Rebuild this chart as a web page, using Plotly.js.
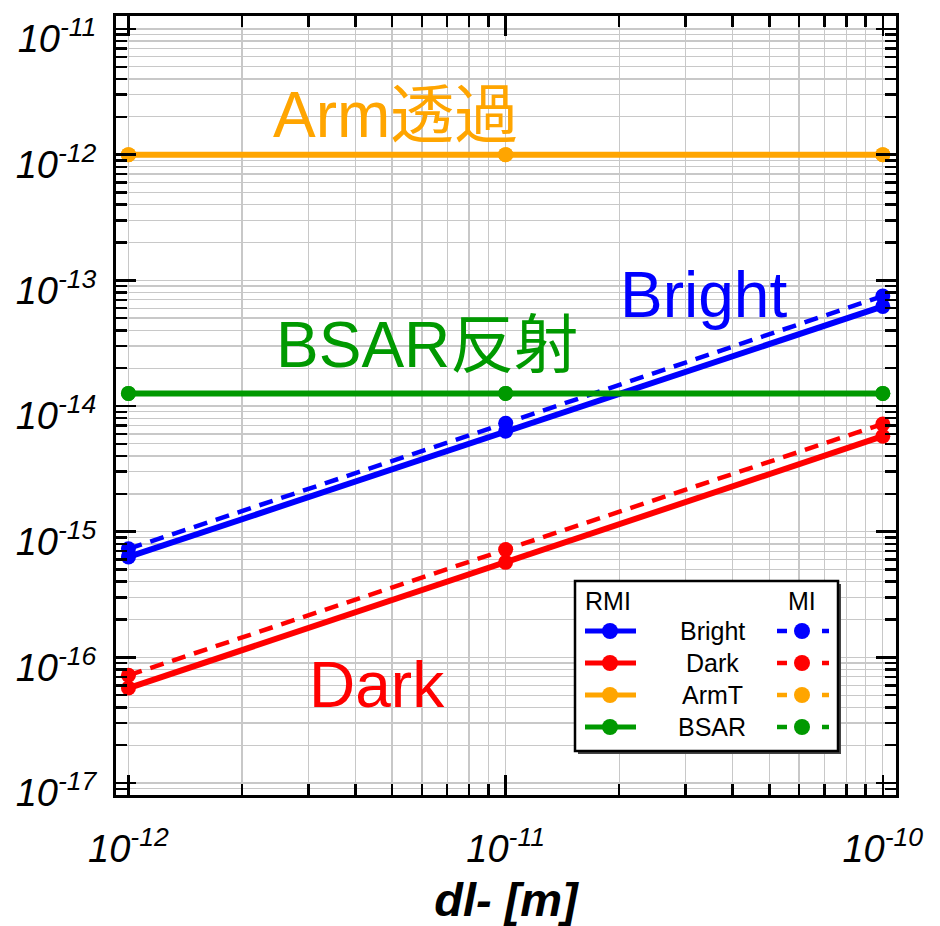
<!DOCTYPE html>
<html><head><meta charset="utf-8">
<script src="https://cdn.plot.ly/plotly-3.0.1.min.js"></script>
<style>body{margin:0;background:#fff}</style></head>
<body><div id="chart" style="width:940px;height:926px"></div>
<script>
// ---- data ----
const dl = [1e-12, 1e-11, 1e-10];
const brightRMI = [6.3e-16, 6.3e-15, 6.2e-14];
const brightMI  = [7.3e-16, 7.3e-15, 7.5e-14];
const darkRMI   = [5.7e-17, 5.7e-16, 5.75e-15];
const darkMI    = [7.2e-17, 7.2e-16, 7.2e-15];
const armTRMI   = [1.0e-12, 1.0e-12, 1.0e-12];
const armTMI    = [1.0e-12, 1.0e-12, 1.0e-12];
const bsarRMI   = [1.26e-14, 1.26e-14, 1.26e-14];
const bsarMI    = [1.26e-14, 1.26e-14, 1.26e-14];
const seriesNames  = ['Bright', 'Dark', 'ArmT', 'BSAR'];
const seriesColors = ['#0000ff', '#ff0000', '#ffa500', '#009900'];
const xTickVals = [1e-12, 1e-11, 1e-10];
const xTickText = ['10<sup>-12</sup>', '10<sup>-11</sup>', '10<sup>-10</sup>'];
const yTickVals = [1e-17, 1e-16, 1e-15, 1e-14, 1e-13, 1e-12, 1e-11];
const yTickText = ['10<sup>-17</sup>', '10<sup>-16</sup>', '10<sup>-15</sup>', '10<sup>-14</sup>', '10<sup>-13</sup>', '10<sup>-12</sup>', '10<sup>-11</sup>'];
const labels = [
  {text: 'Arm透過', x: -11.293, y: -11.684, color: '#ffa500'},
  {text: 'BSAR反射', x: -11.208, y: -13.514, color: '#009900'},
  {text: 'Bright', x: -10.476, y: -13.116, color: '#0000ff'},
  {text: 'Dark', x: -11.341, y: -16.219, color: '#ff0000'}
];

const rmiSets = [brightRMI, darkRMI, armTRMI, bsarRMI];
const miSets  = [brightMI, darkMI, armTMI, bsarMI];

function minorVals(lo, hi) {
  const v = [];
  for (let e = lo; e <= hi; e++) for (let m = 2; m <= 9; m++) v.push(m * Math.pow(10, e));
  return v;
}

const FONT = 'Liberation Sans, Arial, sans-serif';
const traces = [];
miSets.forEach((ys, i) => traces.push({
  x: dl, y: ys, type: 'scatter', mode: 'lines+markers', name: seriesNames[i] + ' MI',
  line: {color: seriesColors[i], width: 4.5, dash: '14px,9px'},
  marker: {color: seriesColors[i], size: 15}, showlegend: false
}));
rmiSets.forEach((ys, i) => traces.push({
  x: dl, y: ys, type: 'scatter', mode: 'lines+markers', name: seriesNames[i] + ' RMI',
  line: {color: seriesColors[i], width: 6},
  marker: {color: seriesColors[i], size: 15}, showlegend: false
}));

// layout geometry (pixel -> paper helpers)
const L = 116, R = 896, T = 16, B = 795, W = 940, H = 926;
const px = x => (x - L) / (R - L);
const py = y => (B - y) / (B - T);

const shapes = [];
const annotations = [];
function legText(text, x, y) {
  annotations.push({xref: 'paper', yref: 'paper', x: px(x), y: py(y), text: text, showarrow: false,
    xanchor: 'center', yanchor: 'middle', font: {family: FONT, size: 25, color: '#000'}});
}
// legend box with shadow
shapes.push({type: 'rect', xref: 'paper', yref: 'paper', x0: px(578), x1: px(841), y0: py(584), y1: py(754),
  fillcolor: '#444', line: {width: 0}, layer: 'above'});
shapes.push({type: 'rect', xref: 'paper', yref: 'paper', x0: px(575), x1: px(838), y0: py(581), y1: py(751),
  fillcolor: '#fff', line: {color: '#000', width: 2.5}, layer: 'above'});
legText('RMI', 608, 601);
legText('MI', 802, 601);
seriesNames.forEach((nm, i) => {
  const yy = 631 + i * 32;
  shapes.push({type: 'line', xref: 'paper', yref: 'paper', x0: px(585), x1: px(636), y0: py(yy), y1: py(yy),
    line: {color: seriesColors[i], width: 5}, layer: 'above'});
  shapes.push({type: 'line', xref: 'paper', yref: 'paper', x0: px(777), x1: px(787), y0: py(yy), y1: py(yy),
    line: {color: seriesColors[i], width: 4.5}, layer: 'above'});
  shapes.push({type: 'line', xref: 'paper', yref: 'paper', x0: px(822), x1: px(829), y0: py(yy), y1: py(yy),
    line: {color: seriesColors[i], width: 4.5}, layer: 'above'});
  [610, 802].forEach(cx => shapes.push({type: 'circle', xref: 'paper', yref: 'paper',
    xsizemode: 'pixel', ysizemode: 'pixel', xanchor: px(cx), yanchor: py(yy),
    x0: -8, x1: 8, y0: -8, y1: 8, fillcolor: seriesColors[i], line: {width: 0}, layer: 'above'}));
  legText(nm, 712, yy);
});
labels.forEach(lb => annotations.push({x: lb.x, y: lb.y, xref: 'x', yref: 'y', text: lb.text, showarrow: false,
  xanchor: 'center', yanchor: 'middle',
  font: {family: FONT + ', Noto Sans CJK JP', size: 64, color: lb.color}}));

const axisCommon = {
  type: 'log', showline: true, linecolor: '#000', linewidth: 3, mirror: 'allticks',
  ticks: 'inside', ticklen: 20, tickwidth: 2.5, tickcolor: '#000',
  showgrid: true, gridcolor: '#c8c8c8', gridwidth: 1.3, zeroline: false,
  tickmode: 'array',
  tickfont: {family: FONT, size: 38, color: '#000', style: 'italic'}
};

const layout = {
  width: W, height: H, paper_bgcolor: '#fff', plot_bgcolor: '#fff',
  margin: {l: L, r: W - R, t: T, b: H - B},
  showlegend: false,
  xaxis: Object.assign({}, axisCommon, {
    range: [-12.033, -9.965], tickvals: xTickVals, ticktext: xTickText,
    ticklabelstandoff: 18,
    minor: {tickmode: 'array', tickvals: minorVals(-13, -10), ticks: 'inside', ticklen: 11, tickwidth: 2.5,
      tickcolor: '#000', showgrid: true, gridcolor: '#c8c8c8', gridwidth: 1.3},
    title: {text: '<b><i>dl- [m]</i></b>', font: {family: FONT, size: 47, color: '#000'}, standoff: 17}
  }),
  yaxis: Object.assign({}, axisCommon, {
    range: [-17.095, -10.897], tickvals: yTickVals, ticktext: yTickText,
    ticklabelstandoff: 9, ticklabelshift: 10,
    minor: {tickmode: 'array', tickvals: minorVals(-18, -11), ticks: 'inside', ticklen: 11, tickwidth: 2.5,
      tickcolor: '#000', showgrid: true, gridcolor: '#c8c8c8', gridwidth: 1.3}
  }),
  shapes: shapes,
  annotations: annotations
};

Plotly.newPlot('chart', traces, layout, {displayModeBar: false, staticPlot: true});
</script></body></html>
